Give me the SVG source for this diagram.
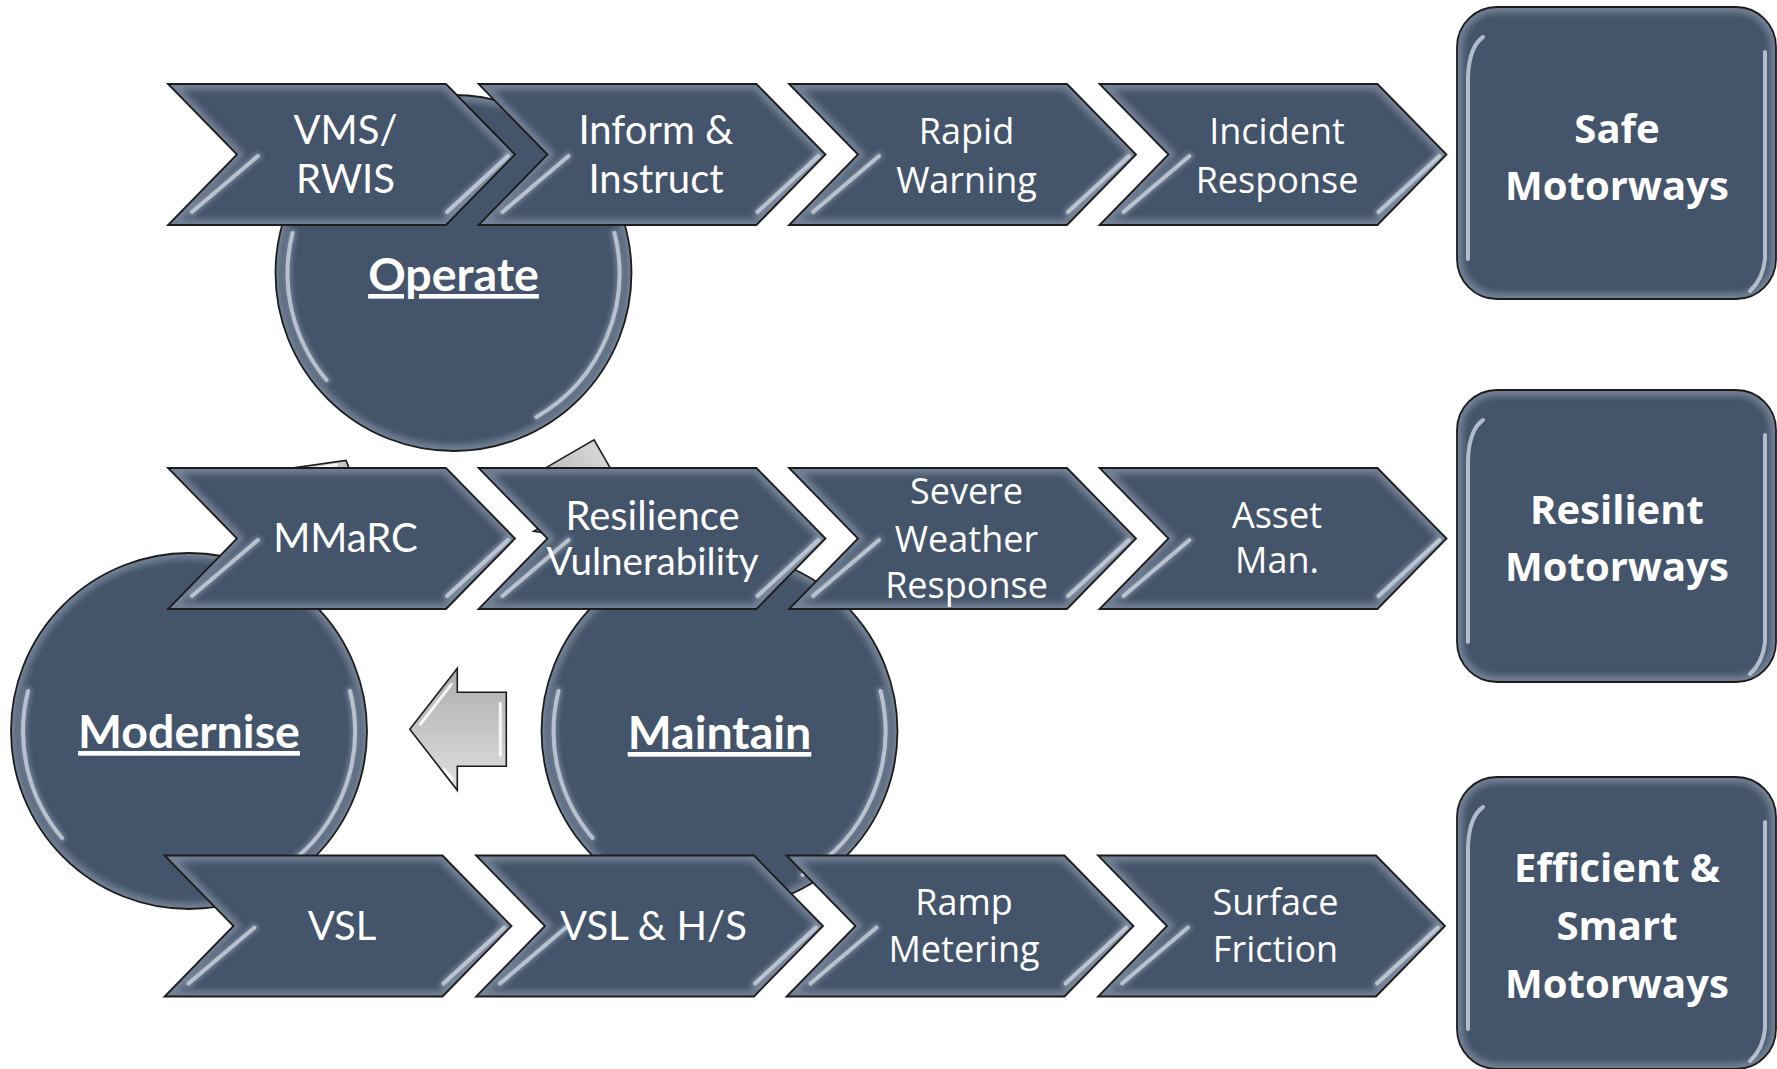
<svg xmlns="http://www.w3.org/2000/svg" xmlns:xlink="http://www.w3.org/1999/xlink" width="1777" height="1069" viewBox="0 0 1777 1069">
<style>
.shape{fill:#44546a}
.edge{fill:none;stroke:#1c1c1c;stroke-width:1.8}
.glow{fill:none;stroke:#a3aec0;stroke-width:12;opacity:.5;filter:url(#blur)}
.hl{fill:none;stroke:#c5cedb;stroke-width:4;stroke-linecap:round;opacity:.85}
.hls{fill:none;stroke:#c5cedb;stroke-width:8;stroke-linecap:round;opacity:.35;filter:url(#blur2)}
.t1{font-family:Lato,"Liberation Sans",sans-serif;font-size:40px;fill:#fff;text-anchor:middle}
.t2{font-family:"Open Sans","Noto Sans",sans-serif;font-size:36px;fill:#fff;text-anchor:middle}
.tb{font-family:"Open Sans","Noto Sans",sans-serif;font-weight:700;font-size:40px;fill:#fff;text-anchor:middle}
.tc{font-family:Lato,"Liberation Sans",sans-serif;font-weight:700;font-size:46.5px;fill:#fff;text-anchor:middle;text-decoration:underline}
.arrow{fill:url(#ag);stroke:#1c1c1c;stroke-width:1.6;stroke-linejoin:miter}
.ahl{fill:none;stroke:#fff;stroke-width:3;stroke-linecap:round;opacity:.85}
</style>
<defs>
<filter id="blur" x="-20%" y="-20%" width="140%" height="140%"><feGaussianBlur stdDeviation="3"/></filter>
<filter id="blur2" x="-20%" y="-20%" width="140%" height="140%"><feGaussianBlur stdDeviation="2"/></filter>
<path id="chev" d="M0,0 H278 L347,70.5 L278,141 H0 L69,70.5 Z"/>
<clipPath id="chevClip"><path d="M0,0 H278 L347,70.5 L278,141 H0 L69,70.5 Z"/></clipPath>
<circle id="circ" cx="0" cy="0" r="178"/>
<clipPath id="circClip"><circle cx="0" cy="0" r="178"/></clipPath>
<rect id="box" x="0" y="0" width="319" height="292" rx="40"/>
<clipPath id="boxClip"><rect x="0" y="0" width="319" height="292" rx="40"/></clipPath>
<path id="arr" d="M-48,-37 H1 V-61 L48.5,0 L1,61 V37 H-48 Z"/>
<linearGradient id="ag" x1="0" y1="0" x2="0" y2="1">
<stop offset="0" stop-color="#e0e0e0"/><stop offset="0.5" stop-color="#c6c6c6"/><stop offset="1" stop-color="#adadad"/>
</linearGradient>
<g id="chevDeco">
<use xlink:href="#chev" class="glow" clip-path="url(#chevClip)"/>
<path class="hls" d="M90,72 L24,128"/>
<path class="hls" d="M340,72 L279,128"/>
<path class="hl" d="M90,72 L24,128"/>
<path class="hl" d="M340,72 L279,128"/>
<use xlink:href="#chev" class="edge"/>
</g>
<g id="circDeco">
<use xlink:href="#circ" class="glow" clip-path="url(#circClip)"/>
<path class="hls" d="M-161,-40 A166,166 0 0 0 -127,107"/>
<path class="hls" d="M161,-40 A166,166 0 0 1 83,144"/>
<path class="hl" d="M-161,-40 A166,166 0 0 0 -127,107"/>
<path class="hl" d="M161,-40 A166,166 0 0 1 83,144"/>
<use xlink:href="#circ" class="edge"/>
</g>
<g id="boxDeco">
<use xlink:href="#box" class="glow" clip-path="url(#boxClip)"/>
<path class="hl" d="M26,30 Q12,40 11,70 L11,252"/>
<path class="hl" d="M308,45 L308,252 Q306,272 293,284"/>
<use xlink:href="#box" class="edge"/>
</g>
</defs>

<rect x="0" y="0" width="1777" height="1069" fill="#ffffff"/>

<!-- cycle nodes -->
<g id="node-operate" transform="translate(453.5,273)">
<use xlink:href="#circ" class="shape"/><use xlink:href="#circDeco"/>
<text class="tc" x="0" y="18">Operate</text>
</g>
<g id="node-modernise" transform="translate(189,731)">
<use xlink:href="#circ" class="shape"/><use xlink:href="#circDeco"/>
<text class="tc" x="0" y="17">Modernise</text>
</g>
<g id="node-maintain" transform="translate(719.5,731)">
<use xlink:href="#circ" class="shape"/><use xlink:href="#circDeco"/>
<text class="tc" x="0" y="18">Maintain</text>
</g>

<!-- connectors -->
<g id="connectors">
<g transform="translate(586,500) rotate(60)">
<use xlink:href="#arr" class="arrow"/>
</g>
<g transform="translate(321.75,502.5) rotate(-60)">
<use xlink:href="#arr" class="arrow"/>
<path class="ahl" d="M40,-6 L6,-48"/>
</g>
<g transform="translate(458.3,729.3) rotate(180)">
<use xlink:href="#arr" class="arrow"/>
<path class="ahl" d="M38,5 L7,45"/>
<path class="ahl" d="M-42,-26 L-42,26"/>
<path class="ahl" d="M6,-50 L14,-40"/>
</g>
</g>

<!-- row 1 -->
<g id="node-vms" transform="translate(168,84)">
<use xlink:href="#chev" class="shape"/><use xlink:href="#chevDeco"/>
<text class="t1" x="177.5" y="59.5">VMS/</text><text class="t1" x="177.5" y="108.5">RWIS</text>
</g>
<g id="node-inform" transform="translate(478.5,84)">
<use xlink:href="#chev" class="shape"/><use xlink:href="#chevDeco"/>
<text class="t1" x="177.5" y="59.5">Inform &amp;</text><text class="t1" x="177.5" y="108.5">Instruct</text>
</g>
<g id="node-rapid" transform="translate(789,84)">
<use xlink:href="#chev" class="shape"/><use xlink:href="#chevDeco"/>
<text class="t2" x="177.5" y="59.5">Rapid</text><text class="t2" x="177.5" y="108.5">Warning</text>
</g>
<g id="node-incident" transform="translate(1099.5,84)">
<use xlink:href="#chev" class="shape"/><use xlink:href="#chevDeco"/>
<text class="t2" x="177.5" y="59.5">Incident</text><text class="t2" x="177.5" y="108.5">Response</text>
</g>

<!-- row 2 -->
<g id="node-mmarc" transform="translate(168,468)">
<use xlink:href="#chev" class="shape"/><use xlink:href="#chevDeco"/>
<text class="t1" x="177.5" y="84">MMaRC</text>
</g>
<g id="node-resilience" transform="translate(478.5,468)">
<use xlink:href="#chev" class="shape"/><use xlink:href="#chevDeco"/>
<text class="t1" x="174" y="62">Resilience</text><text class="t1" x="174" y="107" style="font-size:38.5px">Vulnerability</text>
</g>
<g id="node-severe" transform="translate(789,468)">
<use xlink:href="#chev" class="shape"/><use xlink:href="#chevDeco"/>
<text class="t2" x="177.5" y="36">Severe</text><text class="t2" x="177.5" y="83.5">Weather</text><text class="t2" x="177.5" y="130">Response</text>
</g>
<g id="node-asset" transform="translate(1099.5,468)">
<use xlink:href="#chev" class="shape"/><use xlink:href="#chevDeco"/>
<text class="t2" x="177.5" y="59.5">Asset</text><text class="t2" x="177.5" y="105">Man.</text>
</g>

<!-- row 3 -->
<g id="node-vsl" transform="translate(164.5,855.5)">
<use xlink:href="#chev" class="shape"/><use xlink:href="#chevDeco"/>
<text class="t1" x="177.5" y="84.5">VSL</text>
</g>
<g id="node-vslhs" transform="translate(476,855.5)">
<use xlink:href="#chev" class="shape"/><use xlink:href="#chevDeco"/>
<text class="t1" x="177.5" y="84.5">VSL &amp; H/S</text>
</g>
<g id="node-ramp" transform="translate(786.5,855.5)">
<use xlink:href="#chev" class="shape"/><use xlink:href="#chevDeco"/>
<text class="t2" x="177.5" y="59.5">Ramp</text><text class="t2" x="177.5" y="106.5">Metering</text>
</g>
<g id="node-surface" transform="translate(1098,855.5)">
<use xlink:href="#chev" class="shape"/><use xlink:href="#chevDeco"/>
<text class="t2" x="177.5" y="59.5">Surface</text><text class="t2" x="177.5" y="106.5">Friction</text>
</g>

<!-- outcome boxes -->
<g id="node-safe" transform="translate(1457,7)">
<use xlink:href="#box" class="shape"/><use xlink:href="#boxDeco"/>
<text class="tb" x="160" y="136">Safe</text><text class="tb" x="160" y="193">Motorways</text>
</g>
<g id="node-resilient" transform="translate(1457,390)">
<use xlink:href="#box" class="shape"/><use xlink:href="#boxDeco"/>
<text class="tb" x="160" y="133.5">Resilient</text><text class="tb" x="160" y="190.5">Motorways</text>
</g>
<g id="node-efficient" transform="translate(1457,777)">
<use xlink:href="#box" class="shape"/><use xlink:href="#boxDeco"/>
<text class="tb" x="160" y="105">Efficient &amp;</text><text class="tb" x="160" y="163">Smart</text><text class="tb" x="160" y="220.5">Motorways</text>
</g>
</svg>
